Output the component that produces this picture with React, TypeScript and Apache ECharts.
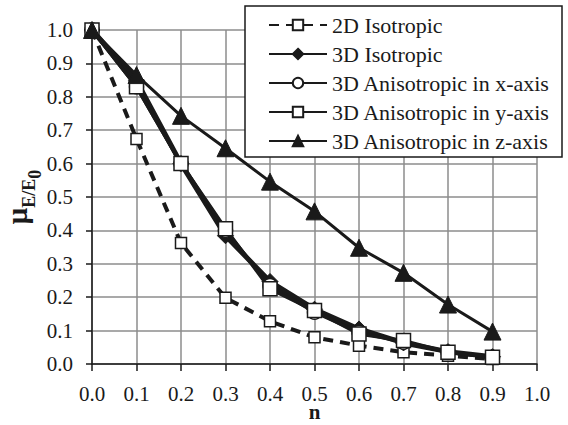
import React, { useEffect, useRef } from "react";
import * as echarts from "echarts";

const xValues = [0, 0.1, 0.2, 0.3, 0.4, 0.5, 0.6, 0.7, 0.8, 0.9];
const iso2D = [1.0, 0.674, 0.362, 0.198, 0.128, 0.08, 0.055, 0.035, 0.025, 0.015];
const iso3D = [1.0, 0.848, 0.6, 0.384, 0.247, 0.164, 0.105, 0.063, 0.037, 0.022];
const anisoX = [1.0, 0.83, 0.6, 0.4, 0.235, 0.155, 0.095, 0.065, 0.035, 0.02];
const anisoY = [1.0, 0.83, 0.6, 0.405, 0.225, 0.16, 0.09, 0.07, 0.035, 0.02];
const anisoZ = [1.0, 0.865, 0.743, 0.646, 0.546, 0.457, 0.348, 0.273, 0.178, 0.097];
const seriesNames = [
  "2D Isotropic",
  "3D Isotropic",
  "3D Anisotropic in x-axis",
  "3D Anisotropic in y-axis",
  "3D Anisotropic in z-axis",
];

const pairs = (ys: number[]) => xValues.map((x, i) => [x, ys[i]]);

const FONT = "Liberation Serif";
const INK = "#1a1a1a";

export default function App() {
  const ref = useRef<HTMLDivElement>(null);
  useEffect(() => {
    if (!ref.current) return;
    const chart = echarts.init(ref.current, undefined, { renderer: "svg" });
    const base = {
      type: "line" as const,
      color: INK,
      symbolKeepAspect: true,
    };
    chart.setOption({
      animation: false,
      backgroundColor: "#ffffff",
      textStyle: { fontFamily: FONT, color: INK },
      grid: { left: 92, right: 31, top: 30, bottom: 61, containLabel: false, outerBoundsMode: "none" },
      graphic: [
        {
          type: "rect",
          z: 50,
          shape: { x: 245, y: 6, width: 317, height: 151 },
          style: { fill: "#ffffff", stroke: INK, lineWidth: 1.5 },
        },
      ],
      legend: {
        orient: "vertical",
        left: 245,
        top: 6,
        z: 60,
        backgroundColor: "transparent",
        padding: [8, 13, 0, 23],
        itemWidth: 58,
        itemHeight: 13,
        itemGap: 7,
        textStyle: { fontFamily: FONT, fontSize: 22, color: INK, lineHeight: 21 },
        data: seriesNames,
      },
      xAxis: {
        type: "value",
        min: 0,
        max: 1,
        interval: 0.1,
        name: "n",
        nameLocation: "middle",
        nameGap: 39,
        nameMoveOverlap: false,
        nameTextStyle: { fontFamily: FONT, fontSize: 21, fontWeight: "bold", color: INK, lineHeight: 18 },
        axisLine: { lineStyle: { color: INK, width: 1.5 } },
        axisTick: { show: true, length: 7, lineStyle: { color: INK, width: 1.5 } },
        axisLabel: {
          fontFamily: FONT,
          fontSize: 21,
          color: INK,
          margin: 21,
          lineHeight: 18,
          formatter: (v: number) => v.toFixed(1),
        },
        splitLine: { show: true, lineStyle: { color: "#8c8c8c", width: 1.5 } },
      },
      yAxis: {
        type: "value",
        min: 0,
        max: 1,
        interval: 0.1,
        name: "{mu|μ}{sub|E/E}{sub2|0}",
        nameLocation: "middle",
        nameRotate: 90,
        nameGap: 52,
        nameMoveOverlap: false,
        nameTextStyle: {
          rich: {
            mu: { fontFamily: FONT, fontSize: 29, fontWeight: "bold", color: INK, verticalAlign: "bottom", padding: [0, 0, 9, 0] },
            sub: { fontFamily: FONT, fontSize: 18, fontWeight: "bold", color: INK, verticalAlign: "bottom", padding: [0, 0, 2, 0] },
            sub2: { fontFamily: FONT, fontSize: 18, fontWeight: "bold", color: INK, verticalAlign: "bottom", padding: [0, 0, -4, 0] },
          },
        },
        axisLine: { show: true, lineStyle: { color: INK, width: 1.5 } },
        axisTick: { show: true, length: 6, lineStyle: { color: INK, width: 1.5 } },
        axisLabel: {
          fontFamily: FONT,
          fontSize: 21,
          color: INK,
          margin: 19,
          formatter: (v: number) => v.toFixed(1),
        },
        splitLine: { show: true, lineStyle: { color: "#8c8c8c", width: 1.5 } },
      },
      series: [
        {
          ...base,
          name: seriesNames[0],
          data: pairs(iso2D),
          symbol: "rect",
          symbolSize: 11,
          lineStyle: { color: INK, width: 4, type: [10, 7] },
          itemStyle: { color: "#ffffff", borderColor: INK, borderWidth: 1.5 },
          z: 2,
        },
        {
          ...base,
          name: seriesNames[1],
          data: pairs(iso3D),
          symbol: "diamond",
          symbolSize: 16,
          lineStyle: { color: INK, width: 5 },
          itemStyle: { color: INK, borderColor: INK, borderWidth: 1 },
          z: 3,
        },
        {
          ...base,
          name: seriesNames[2],
          data: pairs(anisoX),
          symbol: "circle",
          symbolSize: 14,
          lineStyle: { color: INK, width: 3.5 },
          itemStyle: { color: "#ffffff", borderColor: INK, borderWidth: 1.5 },
          z: 4,
        },
        {
          ...base,
          name: seriesNames[3],
          data: pairs(anisoY),
          symbol: "rect",
          symbolSize: 14,
          lineStyle: { color: INK, width: 3.5 },
          itemStyle: { color: "#ffffff", borderColor: INK, borderWidth: 1.5 },
          z: 4,
        },
        {
          ...base,
          name: seriesNames[4],
          data: pairs(anisoZ),
          symbol: "triangle",
          symbolSize: 17,
          lineStyle: { color: INK, width: 3 },
          itemStyle: { color: INK, borderColor: INK, borderWidth: 1 },
          z: 5,
        },
      ],
    });
    return () => chart.dispose();
  }, []);
  return (
    <div
      ref={ref}
      style={{ position: "fixed", left: 0, top: 0, width: 568, height: 425 }}
    />
  );
}
